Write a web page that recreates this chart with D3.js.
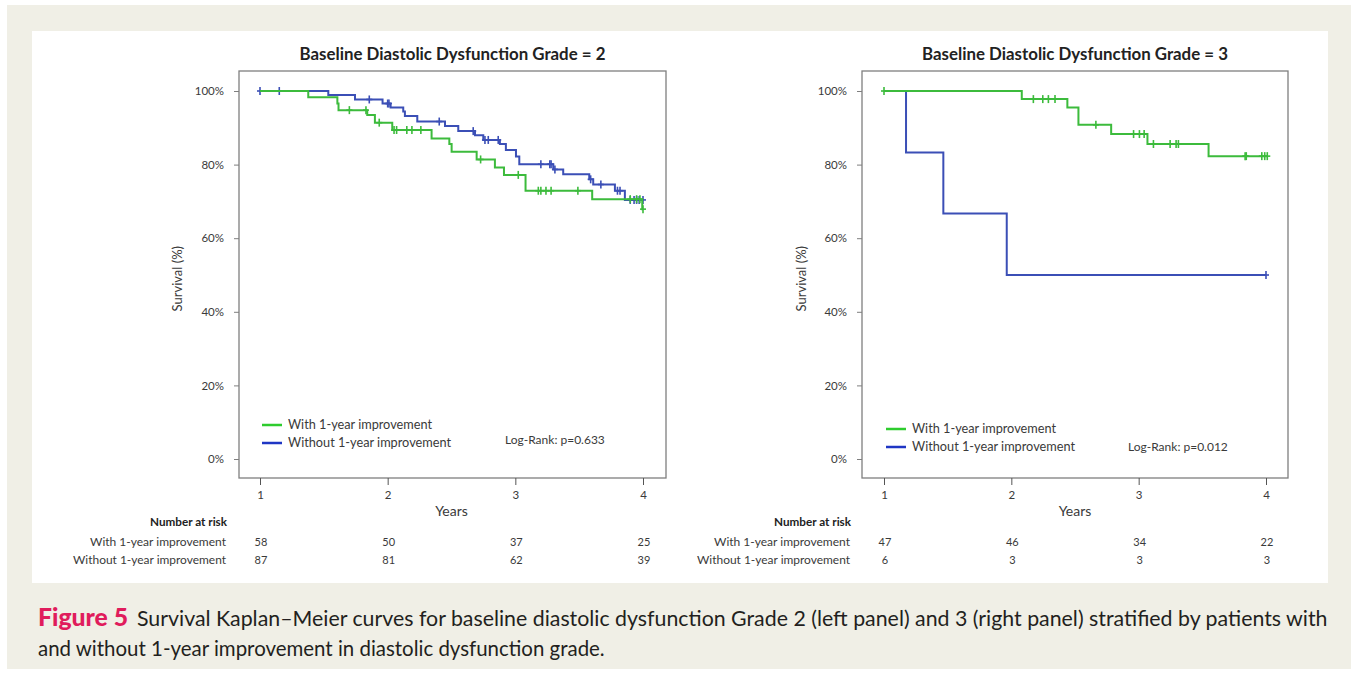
<!DOCTYPE html>
<html><head><meta charset="utf-8">
<script src="https://cdn.jsdelivr.net/npm/d3@7"></script>
<style>body{margin:0;background:#fff}svg{display:block}text{font-family:Lato,'Open Sans',sans-serif}</style>
</head><body><svg id="c" width="1355" height="674"></svg>
<script>
// ---------- data ----------
const years = [1, 2, 3, 4];
const yTicks = [0, 20, 40, 60, 80, 100];
const seriesNames = ["With 1-year improvement", "Without 1-year improvement"];
const panelTitles = ["Baseline Diastolic Dysfunction Grade = 2", "Baseline Diastolic Dysfunction Grade = 3"];
const logRankLabels = ["Log-Rank: p=0.633", "Log-Rank: p=0.012"];

// Grade 2: [time (years), survival % after event]
const g2WithEvents = [[1.378,98.3],[1.606,96.6],[1.615,94.8],[1.840,93.5],[1.900,91.4],[2.036,89.4],[2.344,87.1],[2.483,85.6],[2.501,83.5],[2.697,81.4],[2.840,79.2],[2.911,77.2],[3.080,72.9],[3.602,70.6],[3.994,67.9]];
const g2WithCensor = [1.70,1.83,1.934,2.05,2.07,2.15,2.19,2.26,2.728,3.023,3.18,3.20,3.24,3.28,3.49,3.90,3.95,3.976,4.0];
const g2WithoutEvents = [[1.535,98.9],[1.744,97.7],[1.960,96.6],[2.023,95.5],[2.122,94.4],[2.135,93.2],[2.232,91.7],[2.449,90.5],[2.553,89.1],[2.684,88.0],[2.749,86.7],[2.879,85.6],[2.926,84.0],[3.005,82.2],[3.031,80.1],[3.297,78.7],[3.375,77.4],[3.579,76.0],[3.610,74.6],[3.780,72.9],[3.858,70.4]];
const g2WithoutCensor = [1.0,1.151,1.856,2.00,2.01,2.404,2.670,2.762,2.788,2.866,3.20,3.27,3.28,3.31,3.59,3.67,3.80,3.82,3.90,3.93,3.95,3.97,4.0];

// Grade 3
const g3WithEvents = [[2.082,97.8],[2.440,95.5],[2.527,90.8],[2.784,88.3],[3.069,85.6],[3.549,82.3]];
const g3WithCensor = [1.0,2.173,2.247,2.291,2.343,2.664,2.96,3.006,3.043,3.116,3.247,3.294,3.312,3.836,3.845,3.967,3.99,4.01];
const g3WithoutEvents = [[1.173,83.3],[1.466,66.7],[1.964,50.0]];
const g3WithoutCensor = [4.0];

// Number at risk
const g2AtRiskWith = [58, 50, 37, 25];
const g2AtRiskWithout = [87, 81, 62, 39];
const g3AtRiskWith = [47, 46, 34, 22];
const g3AtRiskWithout = [6, 3, 3, 3];

const captionBold = "Figure 5";
const captionLine1 = "Survival Kaplan\u2013Meier curves for baseline diastolic dysfunction Grade 2 (left panel) and 3 (right panel) stratified by patients with";
const captionLine2 = "and without 1-year improvement in diastolic dysfunction grade.";

// ---------- style ----------
const GREEN = "#3cbb3c", BLUE = "#3b4fb6";
const LEG_GREEN = "#2ecc2e", LEG_BLUE = "#1f36c4";
const FRAME = "#7f7f7f", TXT = "#3a3a3a";

const svg = d3.select("#c");
function fit(sel, w) {
  sel.each(function () {
    const cur = parseFloat(this.getAttribute("font-size"));
    const m = this.getComputedTextLength();
    if (m > 0) this.setAttribute("font-size", (cur * w / m).toFixed(2));
  });
}

svg.append("rect").attr("x", 7).attr("y", 5).attr("width", 1344).attr("height", 664).attr("fill", "#f0efe6");
svg.append("rect").attr("x", 32).attr("y", 31).attr("width", 1296).attr("height", 552).attr("fill", "#fff");

const panels = [
  { frame: [239, 666], range: [260, 643], title: panelTitles[0], titleW: 306, logRank: logRankLabels[0], lrX: 505, lrY: 440, legY: 425,
    ylabX: 177, riskLabX: 227,
    series: [
      { ev: g2WithoutEvents, cen: g2WithoutCensor, color: BLUE },
      { ev: g2WithEvents, cen: g2WithCensor, color: GREEN }
    ], risk: [g2AtRiskWith, g2AtRiskWithout] },
  { frame: [862, 1288], range: [884, 1266], title: panelTitles[1], titleW: 306, logRank: logRankLabels[1], lrX: 1128, lrY: 447, legY: 429,
    ylabX: 801, riskLabX: 851,
    series: [
      { ev: g3WithoutEvents, cen: g3WithoutCensor, color: BLUE },
      { ev: g3WithEvents, cen: g3WithCensor, color: GREEN }
    ], risk: [g3AtRiskWith, g3AtRiskWithout] }
];

const plotTop = 71, plotBottom = 478;
const y = d3.scaleLinear().domain([0, 100]).range([459, 91]);

function survAt(ev, t) {
  let s = 100;
  for (const [et, es] of ev) { if (et <= t) s = es; }
  return s;
}

panels.forEach(p => {
  const x = d3.scaleLinear().domain([1, 4]).range(p.range);
  const g = svg.append("g");
  const [fx0, fx1] = p.frame;

  const t = g.append("text").attr("x", (fx0 + fx1) / 2).attr("y", 60).attr("text-anchor", "middle")
    .attr("font-size", 14).attr("font-weight", "bold").attr("fill", "#222").text(p.title);
  fit(t, p.titleW);

  g.append("rect").attr("x", fx0).attr("y", plotTop).attr("width", fx1 - fx0).attr("height", plotBottom - plotTop)
    .attr("fill", "none").attr("stroke", FRAME).attr("stroke-width", 1.3);

  const ya = g.append("g").attr("transform", `translate(${fx0},0)`)
    .call(d3.axisLeft(y).tickValues(yTicks).tickSize(5).tickPadding(10).tickFormat(d => d + "%"));
  ya.select(".domain").remove();
  ya.selectAll("line").attr("stroke", FRAME);
  ya.selectAll("text").attr("font-size", 11.5).attr("fill", TXT).attr("font-family", "Lato,'Open Sans',sans-serif");

  const xa = g.append("g").attr("transform", `translate(0,${plotBottom})`)
    .call(d3.axisBottom(x).tickValues(years).tickSize(7).tickPadding(6).tickFormat(d3.format("d")));
  xa.select(".domain").remove();
  xa.selectAll("line").attr("stroke", "#555");
  xa.selectAll("text").attr("font-size", 11.5).attr("fill", TXT).attr("font-family", "Lato,'Open Sans',sans-serif");

  g.append("text").attr("transform", `translate(${p.ylabX},${y(49)}) rotate(-90)`).attr("text-anchor", "middle")
    .attr("dy", "0.35em").attr("font-size", 13).attr("fill", TXT).text("Survival (%)");
  g.append("text").attr("x", (x(1) + x(4)) / 2).attr("y", 516).attr("text-anchor", "middle")
    .attr("font-size", 14).attr("fill", TXT).text("Years");

  p.series.forEach(s => {
    const tEnd = Math.max(d3.max(s.cen), d3.max(s.ev, d => d[0]));
    const pts = [[1, 100]];
    let cur = 100;
    s.ev.forEach(([et, es]) => { pts.push([et, cur]); pts.push([et, es]); cur = es; });
    pts.push([tEnd, cur]);
    const line = d3.line().x(d => x(d[0])).y(d => y(d[1]));
    g.append("path").attr("d", line(pts)).attr("fill", "none").attr("stroke", s.color).attr("stroke-width", 2);
    const cg = g.append("g").attr("stroke", s.color).attr("stroke-width", 1.6);
    s.cen.forEach(ct => {
      const cx = x(ct), cy = y(survAt(s.ev, ct));
      cg.append("line").attr("x1", cx).attr("x2", cx).attr("y1", cy - 4).attr("y2", cy + 4);
      cg.append("line").attr("x1", cx - 3).attr("x2", cx + 3).attr("y1", cy).attr("y2", cy);
    });
  });

  const lx = x(1) + 2;
  [[seriesNames[0], LEG_GREEN, p.legY, 144], [seriesNames[1], LEG_BLUE, p.legY + 18, 163]].forEach(([name, col, ly, w]) => {
    g.append("line").attr("x1", lx).attr("x2", lx + 20).attr("y1", ly).attr("y2", ly).attr("stroke", col).attr("stroke-width", 2.5);
    const lt = g.append("text").attr("x", lx + 26).attr("y", ly).attr("dy", "0.35em").attr("font-size", 12).attr("fill", TXT).text(name);
    fit(lt, w);
  });
  g.append("text").attr("x", p.lrX).attr("y", p.lrY).attr("dy", "0.35em").attr("font-size", 12).attr("fill", TXT).text(p.logRank);

  const nr = g.append("text").attr("x", p.riskLabX).attr("y", 522).attr("dy", "0.35em").attr("text-anchor", "end")
    .attr("font-size", 11).attr("font-weight", "bold").attr("fill", "#222").text("Number at risk");
  fit(nr, 77);
  [[seriesNames[0], p.risk[0], 542, 136], [seriesNames[1], p.risk[1], 560, 153]].forEach(([name, vals, ry, w]) => {
    const rt = g.append("text").attr("x", p.riskLabX - 1).attr("y", ry).attr("dy", "0.35em").attr("text-anchor", "end")
      .attr("font-size", 11).attr("fill", TXT).text(name);
    fit(rt, w);
    vals.forEach((v, i) => {
      g.append("text").attr("x", x(years[i]) + 1).attr("y", ry).attr("dy", "0.35em").attr("text-anchor", "middle")
        .attr("font-size", 11).attr("fill", TXT).text(v);
    });
  });
});

const cb = svg.append("text").attr("x", 38).attr("y", 626).attr("font-size", 18).attr("font-weight", 900)
  .attr("fill", "#e01c5c").text(captionBold);
fit(cb, 90);
const c1 = svg.append("text").attr("x", 137).attr("y", 626).attr("font-size", 17).attr("fill", "#231f20").text(captionLine1);
fit(c1, 1191);
const c2 = svg.append("text").attr("x", 38).attr("y", 656).attr("font-size", 17).attr("fill", "#231f20").text(captionLine2);
fit(c2, 567);
</script></body></html>
